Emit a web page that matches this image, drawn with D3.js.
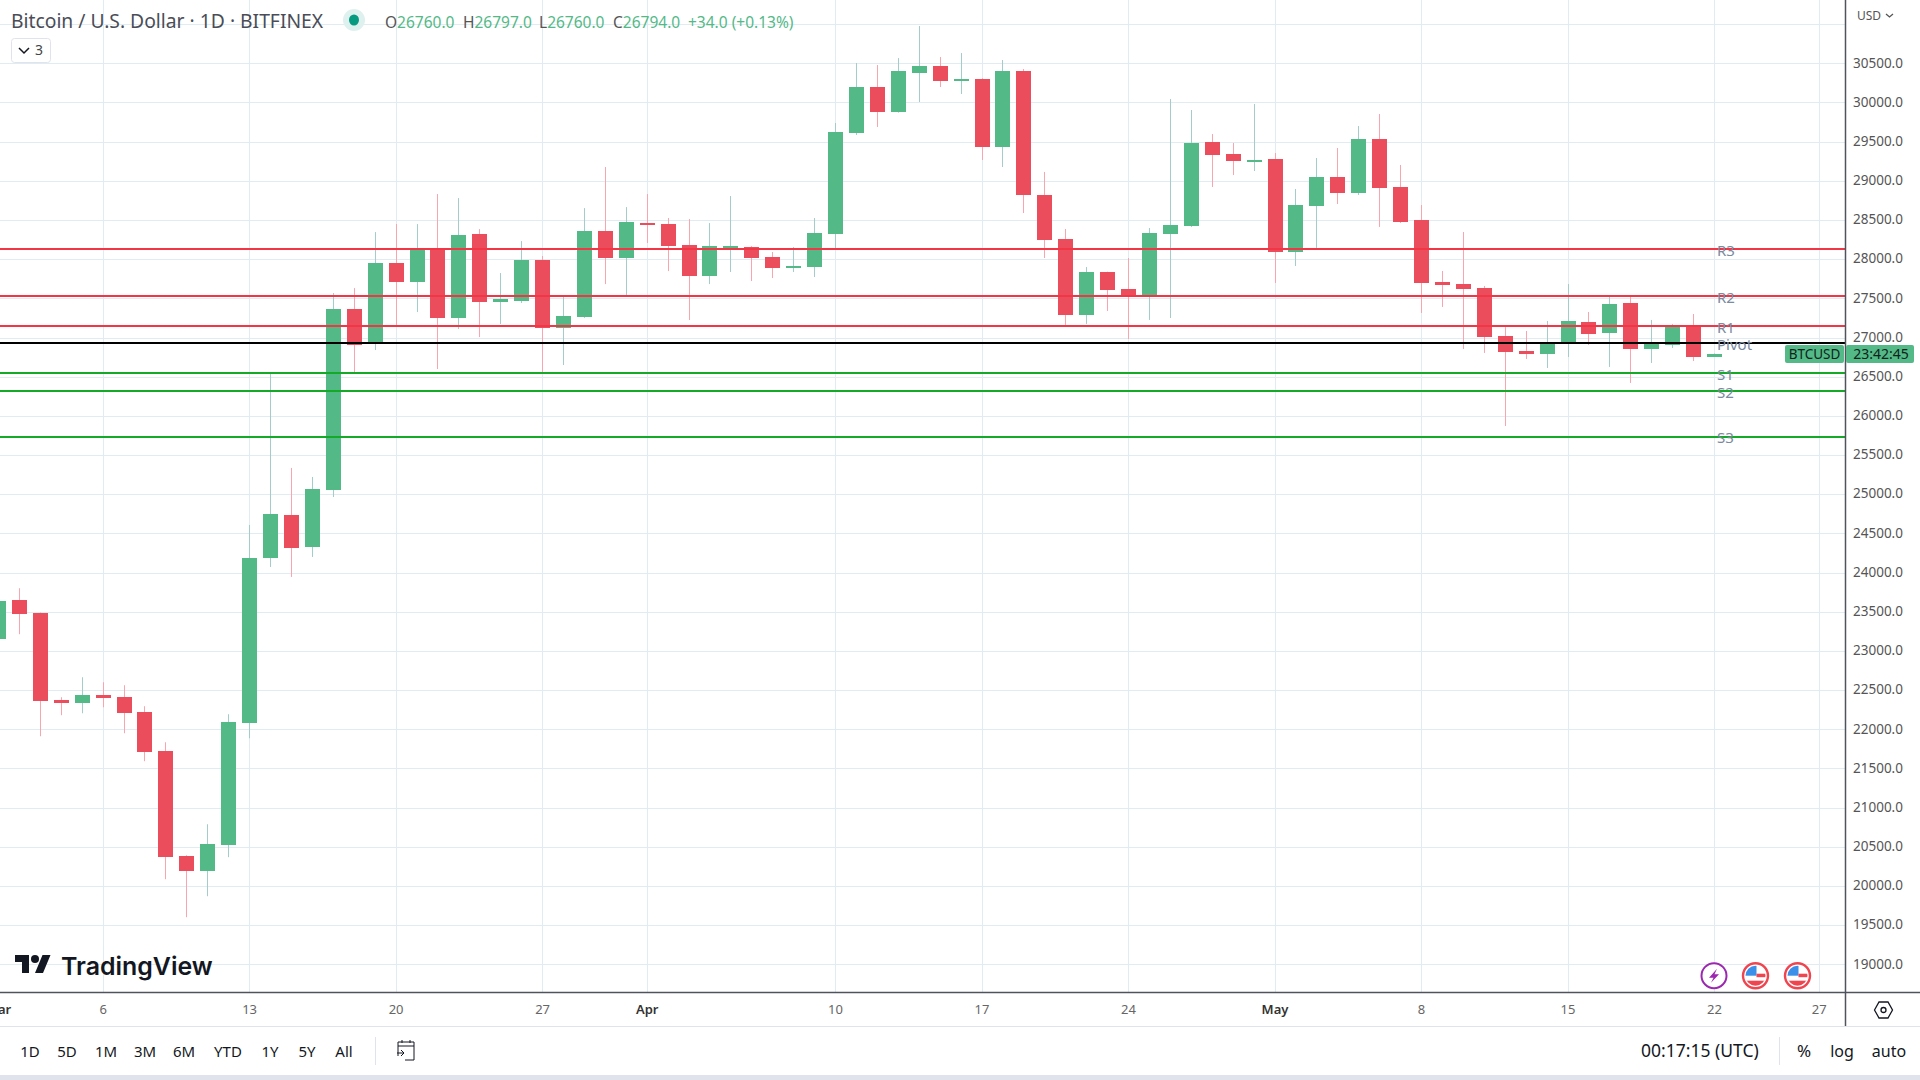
<!DOCTYPE html>
<html>
<head>
<meta charset="utf-8">
<title>Bitcoin / U.S. Dollar</title>
<script src="https://d3js.org/d3.v7.min.js"></script>
<style>
    body { margin: 0; background: #fff; overflow: hidden; }
    text { font-family: "Noto Sans", sans-serif; }
    .axis path, .axis line { display: none; }
</style>
</head>
<body>
<svg width="1920" height="1080"></svg>
<script>
// daily candles, 1 Mar to 22 May 2023
const firstDay = new Date(Date.UTC(2023, 2, 1))
const opens = [23150, 23647, 23481, 22370, 22332, 22434, 22409, 22217, 21719, 20379, 20188, 20520, 22077,
    24186, 24735, 24326, 25054, 27363, 26929, 27950, 27708, 28129, 27249, 28321, 27453, 27466, 27989, 27121,
    27261, 28359, 28014, 28461, 28448, 28180, 27785, 28155, 28155, 28027, 27887, 27899, 28321, 29610, 30197,
    29878, 30376, 30465, 30274, 30299, 29432, 30401, 28819, 28257, 27288, 27836, 27619, 27543, 28321, 28423,
    29495, 29342, 29253, 29278, 28092, 28679, 29049, 28845, 29534, 28921, 28500, 27709, 27683, 27632, 27020,
    26828, 26790, 26930, 27198, 27058, 27441, 26854, 26905, 27160, 26760]
const highs = [23700, 23800, 23490, 22409, 22664, 22600, 22562, 22294, 21834, 20392, 20788, 22192, 24607,
    26534, 25335, 25220, 27568, 27631, 28346, 28448, 28448, 28831, 28780, 28384, 27823, 28231, 28040, 27529,
    28652, 29176, 28665, 28831, 28525, 28512, 28461, 28806, 28167, 28091, 28155, 28525, 29738, 30504, 30478,
    30567, 30976, 30580, 30631, 30310, 30542, 30427, 29113, 28385, 27900, 27840, 28015, 28398, 30044, 29904,
    29597, 29483, 29980, 29355, 28896, 29291, 29419, 29700, 29853, 29202, 28691, 27849, 28347, 27658, 27134,
    27083, 27211, 27683, 27326, 27517, 27530, 27224, 27173, 27300, 26797]
const lows = [23000, 23213, 21911, 22179, 22204, 22281, 21949, 21592, 20086, 19601, 19869, 20367, 21885,
    24071, 23944, 24199, 24964, 26559, 26840, 27151, 27325, 26598, 27108, 27006, 27172, 27440, 26559, 26649,
    27250, 27682, 27542, 28206, 27848, 27223, 27682, 27836, 27721, 27759, 27836, 27772, 28130, 29585, 29687,
    29870, 30006, 30197, 30108, 29266, 29176, 28589, 28015, 27160, 27173, 27339, 26981, 27224, 27249, 28411,
    28921, 29074, 29125, 27696, 27913, 28143, 28704, 28819, 28411, 28462, 27313, 27390, 26854, 26803, 25871,
    26726, 26611, 26751, 26905, 26624, 26420, 26675, 26866, 26700, 26760]
const closes = [23640, 23468, 22358, 22332, 22434, 22396, 22204, 21707, 20367, 20188, 20533, 22090, 24186,
    24748, 24314, 25067, 27363, 26904, 27950, 27708, 28129, 27249, 28308, 27453, 27491, 27989, 27121, 27274,
    28359, 28014, 28474, 28435, 28167, 27785, 28167, 28167, 28014, 27887, 27912, 28333, 29623, 30197, 29878,
    30401, 30465, 30274, 30299, 29432, 30401, 28819, 28245, 27288, 27836, 27607, 27530, 28334, 28436, 29483,
    29330, 29253, 29266, 28092, 28691, 29049, 28845, 29534, 28908, 28474, 27696, 27670, 27619, 27007, 26815,
    26790, 26930, 27211, 27045, 27428, 26854, 26917, 27134, 26751, 26794]

const priceTicks = d3.range(19000, 31000, 500)
const timeTicks = ['2023-03-01', '2023-03-06', '2023-03-13', '2023-03-20', '2023-03-27', '2023-04-01', '2023-04-10',
    '2023-04-17', '2023-04-24', '2023-05-01', '2023-05-08', '2023-05-15', '2023-05-22', '2023-05-27'].map(d => new Date(d))

const pivotNames = ['R3', 'R2', 'R1', 'Pivot', 'S1', 'S2', 'S3']
const pivotValues = [28129, 27529, 27146, 26929, 26546, 26317, 25730]
const pivotColors = ['#f23645', '#f23645', '#f23645', '#000000', '#15a928', '#15a928', '#15a928']

const rangeButtons = ['1D', '5D', '1M', '3M', '6M', 'YTD', '1Y', '5Y', 'All']
const rangeCenters = [30, 67, 106, 145, 184, 228, 270, 307, 344]

const upColor = '#53b987', downColor = '#eb4d5c'
const upWick = '#a3cdcb', downWick = '#f8a5b0'
const gridColor = '#e1ecf2', lineColor = '#50535e'

const paneW = 1845, paneH = 992

let svg = d3.select('svg')
let dates = opens.map((d, i) => d3.utcDay.offset(firstDay, i))

let x = d3.scaleUtc().domain([new Date('2023-03-06'), new Date('2023-05-22')]).range([102.6, 1714])
let y = d3.scaleLinear().domain([19000, 30500]).range([964.3, 63.3])
let snap = v => Math.round(v) + 0.5

svg.append('clipPath').attr('id', 'pane').append('rect').attr('width', paneW).attr('height', paneH)
let pane = svg.append('g').attr('clip-path', 'url(#pane)')

// grid
let extraTicks = priceTicks.concat([31000])
pane.selectAll('line.h').data(extraTicks).enter().append('line').attr('class', 'h')
    .attr('x1', 0).attr('x2', paneW)
    .attr('y1', d => snap(y(d))).attr('y2', d => snap(y(d)))
    .attr('stroke', gridColor)
pane.selectAll('line.v').data(timeTicks).enter().append('line').attr('class', 'v')
    .attr('x1', d => snap(x(d))).attr('x2', d => snap(x(d)))
    .attr('y1', 0).attr('y2', paneH)
    .attr('stroke', gridColor)

// candles
let candles = pane.selectAll('g.candle').data(dates).enter().append('g').attr('class', 'candle')
candles.append('line')
    .attr('x1', d => snap(x(d))).attr('x2', d => snap(x(d)))
    .attr('y1', (d, i) => y(highs[i])).attr('y2', (d, i) => y(lows[i]))
    .attr('stroke', (d, i) => closes[i] >= opens[i] ? upWick : downWick)
candles.append('rect')
    .attr('x', d => Math.round(x(d)) - 7)
    .attr('width', 15)
    .attr('y', (d, i) => Math.round(y(Math.max(opens[i], closes[i]))))
    .attr('height', (d, i) => Math.max(2, Math.round(y(Math.min(opens[i], closes[i])) - y(Math.max(opens[i], closes[i])))))
    .attr('fill', (d, i) => closes[i] >= opens[i] ? upColor : downColor)

// pivot levels
pane.selectAll('line.pivot').data(pivotValues).enter().append('line').attr('class', 'pivot')
    .attr('x1', 0).attr('x2', paneW)
    .attr('y1', d => Math.round(y(d))).attr('y2', d => Math.round(y(d)))
    .attr('stroke', (d, i) => pivotColors[i])
    .attr('stroke-width', 2)
pane.selectAll('text.pivot').data(pivotValues).enter().append('text').attr('class', 'pivot')
    .attr('x', 1717).attr('y', (d, i) => y(d) + (pivotNames[i] === 'S3' ? 5.5 : 7))
    .attr('fill', '#7a8aa0').style('font-size', '15px')
    .text((d, i) => pivotNames[i])

// price axis
svg.append('g').attr('class', 'axis')
    .attr('transform', `translate(${paneW + 8},0)`)
    .call(d3.axisRight(y).tickValues(priceTicks).tickSize(0).tickPadding(0).tickFormat(d3.format('.1f')))
    .call(g => g.selectAll('text').attr('dy', '0.28em').attr('fill', '#555').style('font-size', '13.5px'))
svg.append('text').attr('x', 1857).attr('y', 20).attr('fill', '#555').style('font-size', '12px').text('USD')
svg.append('path').attr('d', 'M1886 14l3.5 3 3.5-3').attr('fill', 'none').attr('stroke', '#555').attr('stroke-width', 1.3)

// time axis
let monthFmt = d3.utcFormat('%b'), dayFmt = d3.utcFormat('%-d')
svg.append('g').attr('class', 'axis')
    .attr('transform', `translate(0,${paneH})`)
    .call(d3.axisBottom(x).tickValues(timeTicks).tickSize(0).tickPadding(0)
        .tickFormat(d => d.getUTCDate() === 1 ? monthFmt(d) : dayFmt(d)))
    .call(g => g.selectAll('text')
        .attr('y', 22).attr('dy', 0)
        .attr('fill', d => d.getUTCDate() === 1 ? '#333' : '#666')
        .style('font-weight', d => d.getUTCDate() === 1 ? 600 : 400)
        .style('font-size', '13px'))

// frame
svg.append('line').attr('x1', paneW + .5).attr('x2', paneW + .5).attr('y1', 0).attr('y2', 1026).attr('stroke', lineColor).attr('stroke-width', 1.5)
svg.append('line').attr('x1', 0).attr('x2', 1920).attr('y1', paneH + .5).attr('y2', paneH + .5).attr('stroke', lineColor).attr('stroke-width', 1.5)
svg.append('line').attr('x1', 0).attr('x2', 1920).attr('y1', 1026.5).attr('y2', 1026.5).attr('stroke', '#e0e3eb')
svg.append('rect').attr('x', 0).attr('y', 1075).attr('width', 1920).attr('height', 5).attr('fill', '#e0e3eb')

// price tags
svg.append('rect').attr('x', 1785).attr('y', 345).attr('width', 59).attr('height', 18).attr('rx', 2).attr('fill', upColor)
svg.append('text').attr('x', 1814.5).attr('y', 359).attr('text-anchor', 'middle').attr('fill', '#10231b').style('font-size', '13.5px').text('BTCUSD')
svg.append('rect').attr('x', 1846).attr('y', 345).attr('width', 68).attr('height', 18).attr('rx', 2).attr('fill', upColor)
svg.append('text').attr('x', 1881).attr('y', 359).attr('text-anchor', 'middle').attr('fill', '#10231b').style('font-size', '14px').text('23:42:45')

// header
svg.append('text').attr('x', 11).attr('y', 28).attr('fill', '#4a4d57').style('font-size', '19.3px').text('Bitcoin / U.S. Dollar · 1D · BITFINEX')
svg.append('circle').attr('cx', 354).attr('cy', 20).attr('r', 11).attr('fill', '#dff1ee')
svg.append('ellipse').attr('cx', 354).attr('cy', 20).attr('rx', 5).attr('ry', 5.5).attr('fill', '#089981')
let legend = svg.append('text').attr('y', 28).style('font-size', '15.5px')
let legendParts = [['O', '26760.0', 385], ['H', '26797.0', 463], ['L', '26760.0', 539], ['C', '26794.0', 613]]
legendParts.forEach(p => {
    legend.append('tspan').attr('x', p[2]).attr('fill', '#555').text(p[0])
    legend.append('tspan').attr('fill', upColor).text(p[1])
})
legend.append('tspan').attr('x', 688).attr('fill', upColor).text('+34.0 (+0.13%)')
svg.append('rect').attr('x', 11.5).attr('y', 38.5).attr('width', 39).attr('height', 24).attr('rx', 3).attr('fill', '#fff').attr('stroke', '#e0e3eb')
svg.append('path').attr('d', 'M19 48l5 5 5-5').attr('fill', 'none').attr('stroke', '#131722').attr('stroke-width', 1.5)
svg.append('text').attr('x', 35).attr('y', 55).attr('fill', '#444').style('font-size', '14px').text('3')

// logo
let logo = svg.append('g').attr('transform', 'translate(15,951)').attr('fill', '#131722')
logo.append('path').attr('d', 'M14 22H7V11H0V4h14v18zM28 22h-8l7.5-18h8L28 22z')
logo.append('circle').attr('cx', 20).attr('cy', 8).attr('r', 4)
svg.append('text').attr('x', 61).attr('y', 975).attr('fill', '#131722').style('font-family', 'Inter').style('font-weight', 600).style('font-size', '24.9px').text('TradingView')

// events
let lightning = svg.append('g').attr('transform', 'translate(1714,975.7)')
lightning.append('circle').attr('r', 12.5).attr('fill', '#fff').attr('stroke', '#9c27b0').attr('stroke-width', 2)
lightning.append('path').attr('d', 'M3 -7L-5 2H-0.5L-3 7L5 -1.5H0.5Z').attr('fill', '#9c27b0')
let flagCenters = [1755.5, 1797.5]
flagCenters.forEach((cx, i) => {
    let g = svg.append('g').attr('transform', `translate(${cx},975.7)`)
    g.append('clipPath').attr('id', 'flag' + i).append('circle').attr('r', 10)
    g.append('circle').attr('r', 12.5).attr('fill', '#fff').attr('stroke', '#f0444f').attr('stroke-width', 2.4)
    let f = g.append('g').attr('clip-path', `url(#flag${i})`)
    f.append('rect').attr('x', -12).attr('y', -11).attr('width', 13).attr('height', 11).attr('fill', '#3b8fe8')
    f.append('rect').attr('x', 1).attr('y', -2).attr('width', 12).attr('height', 3.5).attr('fill', '#f0444f')
    f.append('rect').attr('x', -12).attr('y', 5).attr('width', 24).attr('height', 7).attr('fill', '#f0444f')
})

// settings hexagon
svg.append('path').attr('d', 'M1874.5 1010l4.5-8h9l4.5 8-4.5 8h-9z').attr('fill', 'none').attr('stroke', '#131722').attr('stroke-width', 1.3)
svg.append('circle').attr('cx', 1883.5).attr('cy', 1010).attr('r', 2.5).attr('fill', 'none').attr('stroke', '#131722').attr('stroke-width', 1.3)

// bottom toolbar
svg.selectAll('text.range').data(rangeButtons).enter().append('text').attr('class', 'range')
    .attr('x', (d, i) => rangeCenters[i]).attr('y', 1056.5)
    .attr('text-anchor', 'middle').attr('fill', '#131722').style('font-size', '15px')
    .text(d => d)
svg.append('line').attr('x1', 375.5).attr('x2', 375.5).attr('y1', 1037).attr('y2', 1065).attr('stroke', '#e0e3eb')
svg.append('path').attr('d', 'M398 1056v-14h16v18h-9M402 1040v3M410 1040v3M398 1046h16M397 1053h7m-3-3l3 3-3 3')
    .attr('fill', 'none').attr('stroke', '#131722').attr('stroke-width', 1)
svg.append('text').attr('x', 1641).attr('y', 1057).attr('fill', '#131722').style('font-size', '17.5px').text('00:17:15 (UTC)')
svg.append('line').attr('x1', 1779.5).attr('x2', 1779.5).attr('y1', 1037).attr('y2', 1065).attr('stroke', '#e0e3eb')
svg.append('text').attr('x', 1804).attr('y', 1057).attr('text-anchor', 'middle').attr('fill', '#131722').style('font-size', '17px').text('%')
svg.append('text').attr('x', 1842).attr('y', 1057).attr('text-anchor', 'middle').attr('fill', '#131722').style('font-size', '16px').text('log')
svg.append('text').attr('x', 1889).attr('y', 1057).attr('text-anchor', 'middle').attr('fill', '#131722').style('font-size', '16px').text('auto')
</script>
</body>
</html>
